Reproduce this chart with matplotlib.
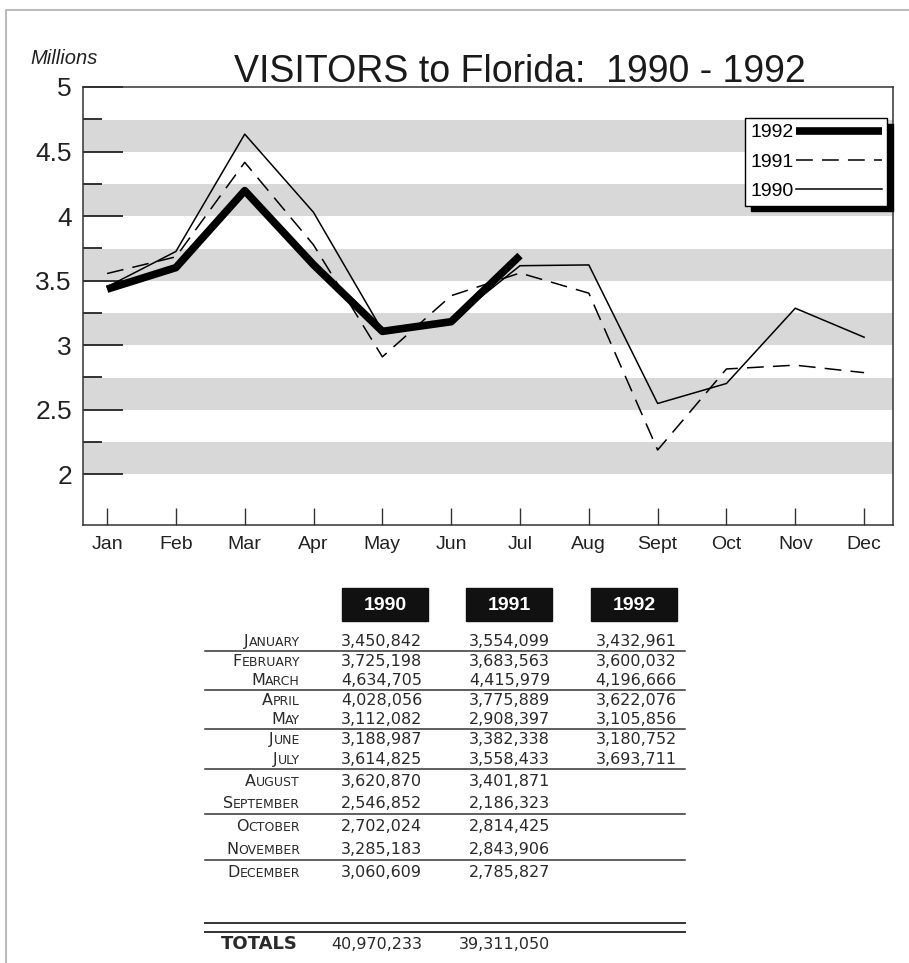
import numpy as np
import matplotlib
matplotlib.use("Agg")
import matplotlib.pyplot as plt
from matplotlib.font_manager import FontProperties

# monthly visitors, millions
months = ['Jan', 'Feb', 'Mar', 'Apr', 'May', 'Jun', 'Jul', 'Aug', 'Sept', 'Oct', 'Nov', 'Dec']
month_names = ['JANUARY', 'FEBRUARY', 'MARCH', 'APRIL', 'MAY', 'JUNE', 'JULY',
               'AUGUST', 'SEPTEMBER', 'OCTOBER', 'NOVEMBER', 'DECEMBER']
v1990 = [3450842, 3725198, 4634705, 4028056, 3112082, 3188987, 3614825,
         3620870, 2546852, 2702024, 3285183, 3060609]
v1991 = [3554099, 3683563, 4415979, 3775889, 2908397, 3382338, 3558433,
         3401871, 2186323, 2814425, 2843906, 2785827]
v1992 = [3432961, 3600032, 4196666, 3622076, 3105856, 3180752, 3693711]
totals = [40970233, 39311050]
years = ['1990', '1991', '1992']

W, H = 909, 963
fig = plt.figure(figsize=(W / 100, H / 100), dpi=100)
plt.rcParams['font.family'] = ['Liberation Sans', 'DejaVu Sans']
ink = '#222222'

# chart area
ax = fig.add_axes([83 / W, 1 - 525 / H, (893 - 83) / W, (525 - 87) / H])
x = np.arange(12)
for lo in np.arange(2.0, 5.0, 0.5):
    ax.axhspan(lo, lo + 0.245, color='#d8d8d8', lw=0, zorder=0)

ax.plot(x[:len(v1992)], np.array(v1992) / 1e6, color='black', lw=5.5,
        solid_capstyle='butt', label='1992', zorder=4)
ax.plot(x, np.array(v1991) / 1e6, color='black', lw=1.1, dashes=(11, 6),
        label='1991', zorder=3)
ax.plot(x, np.array(v1990) / 1e6, color='black', lw=1.1, label='1990', zorder=3)

ax.set_xlim(-0.35, 11.42)
ax.set_ylim(1.605, 5)
ax.set_xticks(x)
ax.set_xticklabels(months)
ax.set_yticks(np.arange(2, 5.01, 0.5))
ax.set_yticklabels(['2', '2.5', '3', '3.5', '4', '4.5', '5'])
ax.set_yticks(np.arange(2.25, 5, 0.5), minor=True)
ax.tick_params(axis='y', which='major', direction='in', length=29, width=1.3,
               labelsize=19, pad=8, color=ink, labelcolor=ink)
ax.tick_params(axis='y', which='minor', direction='in', length=14, width=1.3,
               color=ink)
ax.tick_params(axis='x', direction='in', length=12, width=1, labelsize=14,
               pad=8, color='#333333', labelcolor=ink)
for s in ax.spines.values():
    s.set_linewidth(1.1)
    s.set_color('#333333')

leg = ax.legend(loc='upper left', bbox_to_anchor=(745 / W, 1 - 118 / H),
                bbox_transform=fig.transFigure, markerfirst=False,
                fontsize=14, handlelength=4.4, handletextpad=0.1,
                labelspacing=0.6, borderpad=0.3, borderaxespad=0,
                fancybox=False, framealpha=1, edgecolor='black',
                shadow={'ox': 4, 'oy': -4, 'facecolor': 'black',
                        'edgecolor': 'black', 'alpha': 1})
leg.get_frame().set_linewidth(1.0)

# titles
fig.text(520 / W, 1 - 82 / H, 'VISITORS to Florida:  1990 - 1992',
         ha='center', va='baseline', fontsize=27, color='#1a1a1a')
fig.text(30 / W, 1 - 64 / H, 'Millions', ha='left', va='baseline',
         fontsize=14.5, style='italic', color=ink)

# table drawn in pixel coordinates
tab = fig.add_axes([0, 0, 1, 1], facecolor='none')
tab.set_xlim(0, W)
tab.set_ylim(H, 0)
tab.axis('off')

# page border
tab.plot([6, 6, W], [H, 10, 10], color='#bbbbbb', lw=1.5)

head_x = [385, 509, 634]
for cx, yr in zip(head_x, years):
    tab.add_patch(plt.Rectangle((cx - 43, 588), 86, 33, color='#111111'))
    tab.text(cx, 605, yr, ha='center', va='center', color='white',
             fontsize=14, fontweight='bold')

row_y = [641, 661, 680, 700, 719, 739, 759, 781, 803, 826, 849, 872]
col_right = [422, 550, 677]
tcol = '#2a2a2a'

# small-caps month labels: big first letter, smaller rest, right aligned
renderer = fig.canvas.get_renderer()
big = FontProperties(family='DejaVu Sans', size=11.5)
small = FontProperties(family='DejaVu Sans', size=9)
for y, name in zip(row_y, month_names):
    w1 = renderer.get_text_width_height_descent(name[0], big, ismath=False)[0]
    w2 = renderer.get_text_width_height_descent(name[1:], small, ismath=False)[0]
    x0 = 300 - w1 - w2
    tab.text(x0, y + 5, name[0], ha='left', va='baseline',
             fontproperties=big, color=tcol)
    tab.text(x0 + w1, y + 5, name[1:], ha='left', va='baseline',
             fontproperties=small, color=tcol)

series = [v1990, v1991, v1992]
for cr, vals in zip(col_right, series):
    for y, v in zip(row_y, vals):
        tab.text(cr, y + 5, f'{v:,}', ha='right', va='baseline',
                 family='DejaVu Sans', fontsize=11.5, color=tcol)

for ly in [651, 690, 729, 769, 814, 860]:
    tab.plot([205, 685], [ly, ly], color='#333333', lw=1.1)
for ly in [923, 932]:
    tab.plot([205, 685], [ly, ly], color='#333333', lw=1.4)

tab.text(298, 949, 'TOTALS', ha='right', va='baseline', family='DejaVu Sans',
         fontsize=13, fontweight='bold', color=tcol)
for cr, t in zip(col_right, totals):
    tab.text(cr, 949, f'{t:,}', ha='right', va='baseline',
             family='DejaVu Sans', fontsize=11.5, color=tcol)

fig.savefig('out.png', dpi=100)
